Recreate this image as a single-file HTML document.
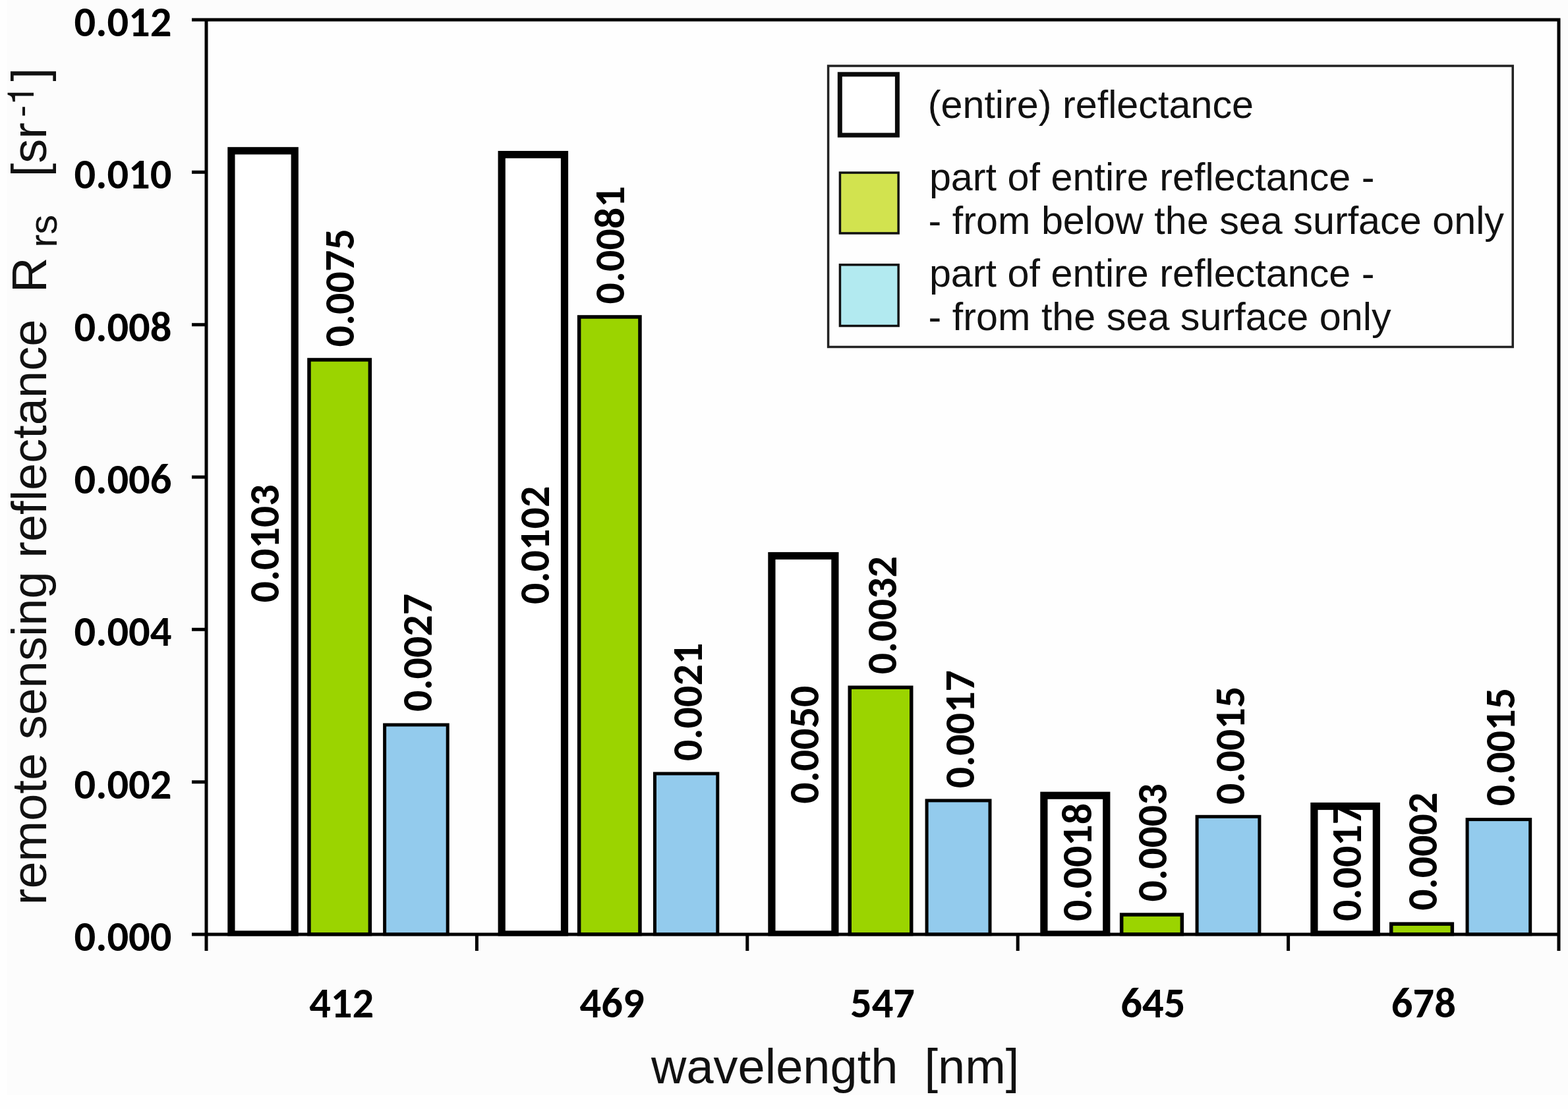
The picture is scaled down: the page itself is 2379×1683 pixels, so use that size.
<!DOCTYPE html>
<html><head><meta charset="utf-8"><title>Remote sensing reflectance chart</title>
<style>
html,body{margin:0;padding:0;background:#fefefe;}
svg{display:block;width:2379px;height:1683px;}
.num{font-family:Carlito, 'Liberation Sans', Arial, sans-serif;font-weight:bold;font-size:64.5px;fill:#000;}
.txt{font-family:'Liberation Sans', Arial, Helvetica, sans-serif;font-weight:normal;fill:#111;}
</style></head><body>
<svg width="2379" height="1683" viewBox="0 0 2379 1683">
<rect x="0" y="0" width="2379" height="1683" fill="#fefefe"/>
<rect x="11" y="0" width="2368" height="1662" fill="#fcfcfc"/>
<rect x="313.0" y="30.0" width="2052.0" height="1388.0" fill="#fefefe"/>
<defs><clipPath id="pc"><rect x="0" y="0" width="2379" height="1420.5"/></clipPath></defs>
<g id="bars" clip-path="url(#pc)">
<rect x="350.90" y="228.80" width="96.30" height="1189.20" fill="#ffffff" stroke="#000" stroke-width="11.2"/>
<rect x="468.95" y="545.95" width="92.40" height="872.05" fill="#9bd400" stroke="#000" stroke-width="5.5"/>
<rect x="583.60" y="1100.00" width="95.60" height="318.00" fill="#93cbed" stroke="#000" stroke-width="5.0"/>
<rect x="761.20" y="234.60" width="95.30" height="1183.40" fill="#ffffff" stroke="#000" stroke-width="11.2"/>
<rect x="878.65" y="480.95" width="92.30" height="937.05" fill="#9bd400" stroke="#000" stroke-width="5.5"/>
<rect x="993.50" y="1174.00" width="95.30" height="244.00" fill="#93cbed" stroke="#000" stroke-width="5.0"/>
<rect x="1170.90" y="843.50" width="96.00" height="574.50" fill="#ffffff" stroke="#000" stroke-width="11.2"/>
<rect x="1289.25" y="1043.25" width="93.50" height="374.75" fill="#9bd400" stroke="#000" stroke-width="5.5"/>
<rect x="1406.10" y="1214.90" width="95.90" height="203.10" fill="#93cbed" stroke="#000" stroke-width="5.0"/>
<rect x="1583.90" y="1207.20" width="94.90" height="210.80" fill="#ffffff" stroke="#000" stroke-width="11.2"/>
<rect x="1701.65" y="1388.05" width="91.70" height="29.95" fill="#9bd400" stroke="#000" stroke-width="5.5"/>
<rect x="1816.10" y="1239.30" width="94.80" height="178.70" fill="#93cbed" stroke="#000" stroke-width="5.0"/>
<rect x="1993.90" y="1223.50" width="94.40" height="194.50" fill="#ffffff" stroke="#000" stroke-width="11.2"/>
<rect x="2110.75" y="1402.15" width="92.60" height="15.85" fill="#9bd400" stroke="#000" stroke-width="5.5"/>
<rect x="2226.10" y="1243.60" width="95.60" height="174.40" fill="#93cbed" stroke="#000" stroke-width="5.0"/>
</g>
<g stroke="#000" stroke-width="5.0" fill="none" stroke-linecap="butt">
<path d="M291 30.0 H2367.5 M313.0 27.5 V1443 M2365.0 27.5 V1443 M291 1418.0 H2367.5"/>
<path d="M291 261.33 H313.0 M291 492.67 H313.0 M291 724.00 H313.0 M291 955.33 H313.0 M291 1186.67 H313.0 M723.40 1418.0 V1443 M1133.80 1418.0 V1443 M1544.20 1418.0 V1443 M1954.60 1418.0 V1443 "/>
</g>
<g class="num" style="font-size:64px">
<text transform="translate(422.5,824.9) rotate(-90)" text-anchor="middle" x="0" y="0" textLength="179.29" lengthAdjust="spacingAndGlyphs">0.0103</text>
<text transform="translate(537.2,436.8) rotate(-90)" text-anchor="middle" x="0" y="0" textLength="179.29" lengthAdjust="spacingAndGlyphs">0.0075</text>
<text transform="translate(655.1,990.4) rotate(-90)" text-anchor="middle" x="0" y="0" textLength="179.29" lengthAdjust="spacingAndGlyphs">0.0027</text>
<text transform="translate(833.3,827.3) rotate(-90)" text-anchor="middle" x="0" y="0" textLength="179.29" lengthAdjust="spacingAndGlyphs">0.0102</text>
<text transform="translate(947.0,371.9) rotate(-90)" text-anchor="middle" x="0" y="0" textLength="179.29" lengthAdjust="spacingAndGlyphs">0.0081</text>
<text transform="translate(1064.9,1065.3) rotate(-90)" text-anchor="middle" x="0" y="0" textLength="179.29" lengthAdjust="spacingAndGlyphs">0.0021</text>
<text transform="translate(1241.6,1130.1) rotate(-90)" text-anchor="middle" x="0" y="0" textLength="179.29" lengthAdjust="spacingAndGlyphs">0.0050</text>
<text transform="translate(1359.7,933.7) rotate(-90)" text-anchor="middle" x="0" y="0" textLength="179.29" lengthAdjust="spacingAndGlyphs">0.0032</text>
<text transform="translate(1478.0,1106.6) rotate(-90)" text-anchor="middle" x="0" y="0" textLength="179.29" lengthAdjust="spacingAndGlyphs">0.0017</text>
<text transform="translate(1655.6,1308.4) rotate(-90)" text-anchor="middle" x="0" y="0" textLength="179.29" lengthAdjust="spacingAndGlyphs">0.0018</text>
<text transform="translate(1769.5,1278.9) rotate(-90)" text-anchor="middle" x="0" y="0" textLength="179.29" lengthAdjust="spacingAndGlyphs">0.0003</text>
<text transform="translate(1887.5,1131.3) rotate(-90)" text-anchor="middle" x="0" y="0" textLength="179.29" lengthAdjust="spacingAndGlyphs">0.0015</text>
<text transform="translate(2064.8,1308.4) rotate(-90)" text-anchor="middle" x="0" y="0" textLength="179.29" lengthAdjust="spacingAndGlyphs">0.0017</text>
<text transform="translate(2180.4,1292.2) rotate(-90)" text-anchor="middle" x="0" y="0" textLength="179.29" lengthAdjust="spacingAndGlyphs">0.0002</text>
<text transform="translate(2297.9,1133.5) rotate(-90)" text-anchor="middle" x="0" y="0" textLength="179.29" lengthAdjust="spacingAndGlyphs">0.0015</text>
</g>
<g class="num" text-anchor="end">
<text x="260.5" y="54.6" textLength="148.0" lengthAdjust="spacingAndGlyphs">0.012</text>
<text x="260.5" y="286.1" textLength="148.0" lengthAdjust="spacingAndGlyphs">0.010</text>
<text x="260.5" y="517.5" textLength="148.0" lengthAdjust="spacingAndGlyphs">0.008</text>
<text x="260.5" y="749.0" textLength="148.0" lengthAdjust="spacingAndGlyphs">0.006</text>
<text x="260.5" y="980.4" textLength="148.0" lengthAdjust="spacingAndGlyphs">0.004</text>
<text x="260.5" y="1211.8" textLength="148.0" lengthAdjust="spacingAndGlyphs">0.002</text>
<text x="260.5" y="1443.3" textLength="148.0" lengthAdjust="spacingAndGlyphs">0.000</text>
</g>
<g class="num" text-anchor="middle">
<text x="518.2" y="1543.5" textLength="98.08" lengthAdjust="spacingAndGlyphs">412</text>
<text x="928.6" y="1543.5" textLength="98.08" lengthAdjust="spacingAndGlyphs">469</text>
<text x="1339.0" y="1543.5" textLength="98.08" lengthAdjust="spacingAndGlyphs">547</text>
<text x="1749.4" y="1543.5" textLength="98.08" lengthAdjust="spacingAndGlyphs">645</text>
<text x="2159.8" y="1543.5" textLength="98.08" lengthAdjust="spacingAndGlyphs">678</text>
</g>
<text class="txt" font-size="74" x="988" y="1643.5">wavelength</text>
<text class="txt" font-size="74" x="1402.5" y="1643.5">[nm]</text>
<g class="txt" transform="rotate(-90)">
<text font-size="74" x="-1373.2" y="69.5">remote sensing reflectance</text>
<text font-size="74" x="-444.0" y="69.5">R</text>
<text font-size="60" x="-375.7" y="85.5">rs</text>
<text font-size="74" x="-268.2" y="69.5">[sr</text>
<text font-size="55" font-family="FreeSans, 'TeX Gyre Heros', 'Liberation Sans', sans-serif" x="-178.0" y="51.0">-1</text>
<text font-size="74" x="-123.5" y="69.5">]</text>
</g>
<g id="legend">
<rect x="1256.6" y="100" width="1038.6" height="426.5" fill="#fefefe" stroke="#222" stroke-width="3.5"/>
<rect x="1274.3" y="112.8" width="87.1" height="92.3" fill="#fff" stroke="#0a0a0a" stroke-width="7"/>
<rect x="1274.45" y="262.05" width="88.7" height="91.9" fill="#d2e34f" stroke="#111" stroke-width="3.5"/>
<rect x="1274.45" y="401.85" width="88.7" height="92.7" fill="#b2eaf0" stroke="#111" stroke-width="3.5"/>
<g class="txt" font-size="59.3">
<text x="1407.7" y="179.3">(entire) reflectance</text>
<text x="1409.9" y="289">part of entire reflectance -</text>
<text x="1408.6" y="354.9">- from below the sea surface only</text>
<text x="1409.9" y="434.6">part of entire reflectance -</text>
<text x="1408.6" y="500.7">- from the sea surface only</text>
</g>
</g>
</svg>
</body></html>
